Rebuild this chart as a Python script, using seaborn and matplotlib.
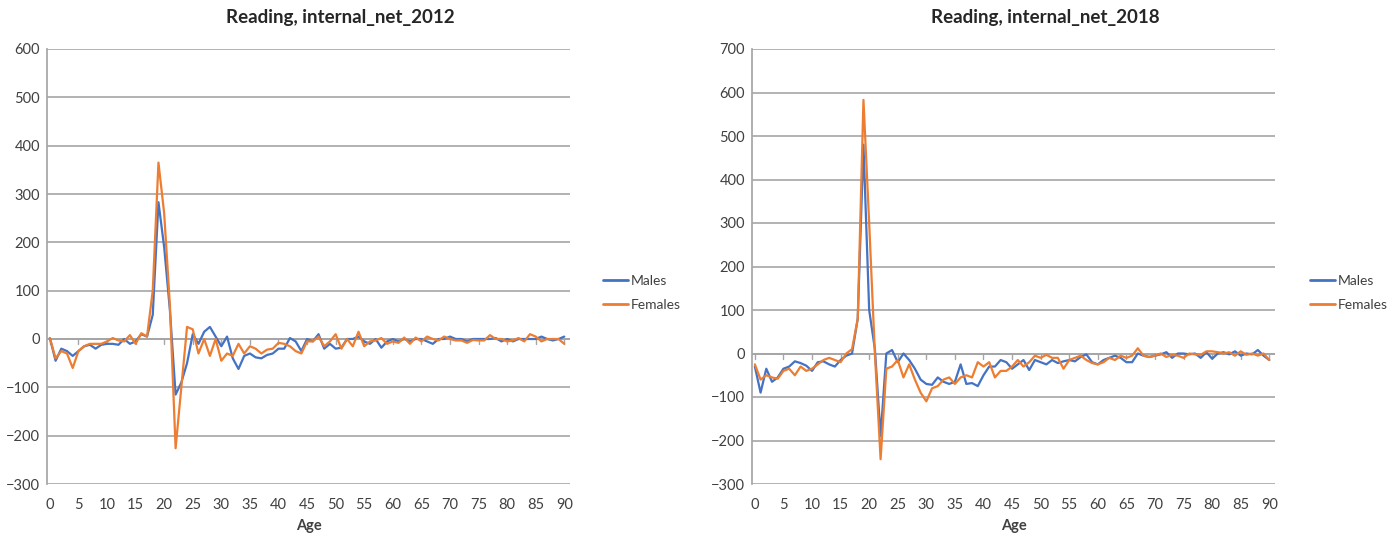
import numpy as np
import pandas as pd
import matplotlib
matplotlib.use("Agg")
import matplotlib.pyplot as plt
import seaborn as sns

ages = list(range(0, 91))

males_2012 = [2, -45, -20, -25, -35, -25, -15, -12, -20, -12,
              -10, -10, -12, 0, -10, -5, 10, 5, 50, 283,
              190, 60, -115, -90, -50, 10, -10, 15, 25, 5,
              -15, 5, -40, -62, -35, -30, -38, -40, -33, -30,
              -20, -20, 2, -5, -25, 0, -5, 10, -20, -10,
              -20, -18, 0, 0, 5, -5, -10, 0, -18, -5,
              0, -5, 0, -5, 0, 0, -5, -10, 0, 0,
              5, 0, 0, -5, 0, 0, 0, 0, 2, -5,
              0, -5, 0, 0, 0, 0, 5, 0, -3, 0, 5]
females_2012 = [2, -40, -25, -30, -60, -25, -15, -10, -10, -10,
                -5, 2, -3, -5, 8, -10, 12, 5, 100, 365,
                260, 70, -226, -100, 25, 20, -30, 0, -35, 0,
                -45, -30, -35, -10, -30, -15, -20, -30, -22, -20,
                -8, -10, -15, -25, -30, -5, -5, 5, -15, -5,
                10, -20, 0, -15, 15, -15, -5, -3, 2, -10,
                -5, -8, 3, -10, 3, -5, 5, 0, -3, 5,
                0, -3, -3, -8, -2, -3, -3, 8, 0, 0,
                -5, -3, 2, -5, 10, 5, -5, 0, 0, 0, -10]
males_2018 = [-30, -90, -35, -65, -55, -35, -30, -18, -22, -28,
              -40, -20, -18, -25, -30, -15, -5, 0, 80, 480,
              100, 10, -190, 0, 8, -20, 0, -15, -35, -60,
              -70, -72, -55, -65, -70, -65, -25, -70, -68, -75,
              -50, -30, -30, -15, -20, -35, -25, -15, -38, -15,
              -20, -25, -15, -22, -18, -15, -18, -8, -2, -20,
              -25, -15, -10, -5, -10, -20, -20, 0, -5, -8,
              -5, -2, 3, -10, 0, 0, -2, 0, -10, 3,
              -12, 0, 3, -2, 5, -5, 0, -2, 8, -5, -15]
females_2018 = [-25, -60, -50, -55, -58, -40, -35, -50, -30, -40,
                -35, -25, -15, -10, -15, -20, 0, 10, 80, 583,
                300, 0, -243, -35, -30, -15, -55, -25, -60, -90,
                -110, -80, -75, -60, -55, -70, -55, -50, -55, -20,
                -30, -20, -55, -40, -40, -30, -15, -30, -20, -5,
                -10, -3, -10, -10, -35, -15, -10, -5, -15, -22,
                -25, -20, -10, -15, -5, -10, -5, 12, -5, -8,
                -5, 0, -8, -3, -5, -10, 0, -2, -3, 5,
                5, 3, 0, 3, -5, 5, -3, 0, -5, 0, -15]

sns.set_theme(style="white")
plt.rcParams['font.family'] = ['Lato', 'DejaVu Sans']

palette = {"Males": "#4472C4", "Females": "#ED7D31"}
grid_col = "#A6A6A6"

fig = plt.figure(figsize=(13.87, 5.34), dpi=100)

panels = [
    (males_2012, females_2012, "Reading, internal_net_2012", (-300, 600), 47, 340, 590),
    (males_2018, females_2018, "Reading, internal_net_2018", (-300, 700), 752, 1045, 1297),
]

for m, f, title, ylim, left_px, title_px, leg_px in panels:
    df = pd.DataFrame({
        "Age": ages * 2,
        "value": m + f,
        "sex": ["Males"] * len(ages) + ["Females"] * len(ages),
    })
    ax = fig.add_axes([left_px / 1387, 1 - 484 / 534, 523 / 1387, 435 / 534])
    g = sns.lineplot(data=df, x="Age", y="value", hue="sex", palette=palette,
                     linewidth=1.6, ax=ax, legend=False)
    ax.set_xlim(-0.5, 91)
    ax.set_ylim(*ylim)
    ax.set_yticks(range(ylim[0], ylim[1] + 1, 100))
    ax.set_xticks(range(0, 91, 5))
    ax.yaxis.grid(True, color=grid_col, linewidth=1.2)
    ax.xaxis.grid(False)
    for s in ["top", "right", "bottom"]:
        ax.spines[s].set_visible(False)
    ax.spines["left"].set_color(grid_col)
    ax.axhline(0, color=grid_col, linewidth=1.4, zorder=1)
    # small tick marks on zero axis
    for t in range(0, 91, 5):
        ax.plot([t, t], [0, -0.012 * (ylim[1] - ylim[0])], color=grid_col, lw=1, zorder=1)
    ax.tick_params(axis="both", length=0, labelsize=10.5, colors="#404040")
    ax.tick_params(axis="x", pad=10)
    ax.tick_params(axis="y", pad=5)
    ax.set_xlabel("Age", fontsize=10.5, fontweight="bold", color="#404040", labelpad=5)
    ax.set_ylabel("")
    fig.text(title_px / 1387, 1 - 18 / 534, title, ha="center", va="center",
             fontsize=13.5, fontweight="bold", color="#262626")
    # legend
    handles = [plt.Line2D([], [], color=palette[k], lw=2) for k in ["Males", "Females"]]
    fig.legend(handles, ["Males", "Females"], loc="center left",
               bbox_to_anchor=(leg_px / 1387, 1 - 293 / 534), frameon=False,
               fontsize=10, handlelength=1.8, handletextpad=0.2, labelspacing=0.9,
               labelcolor="#404040")

fig.savefig("out.png", dpi=100)
